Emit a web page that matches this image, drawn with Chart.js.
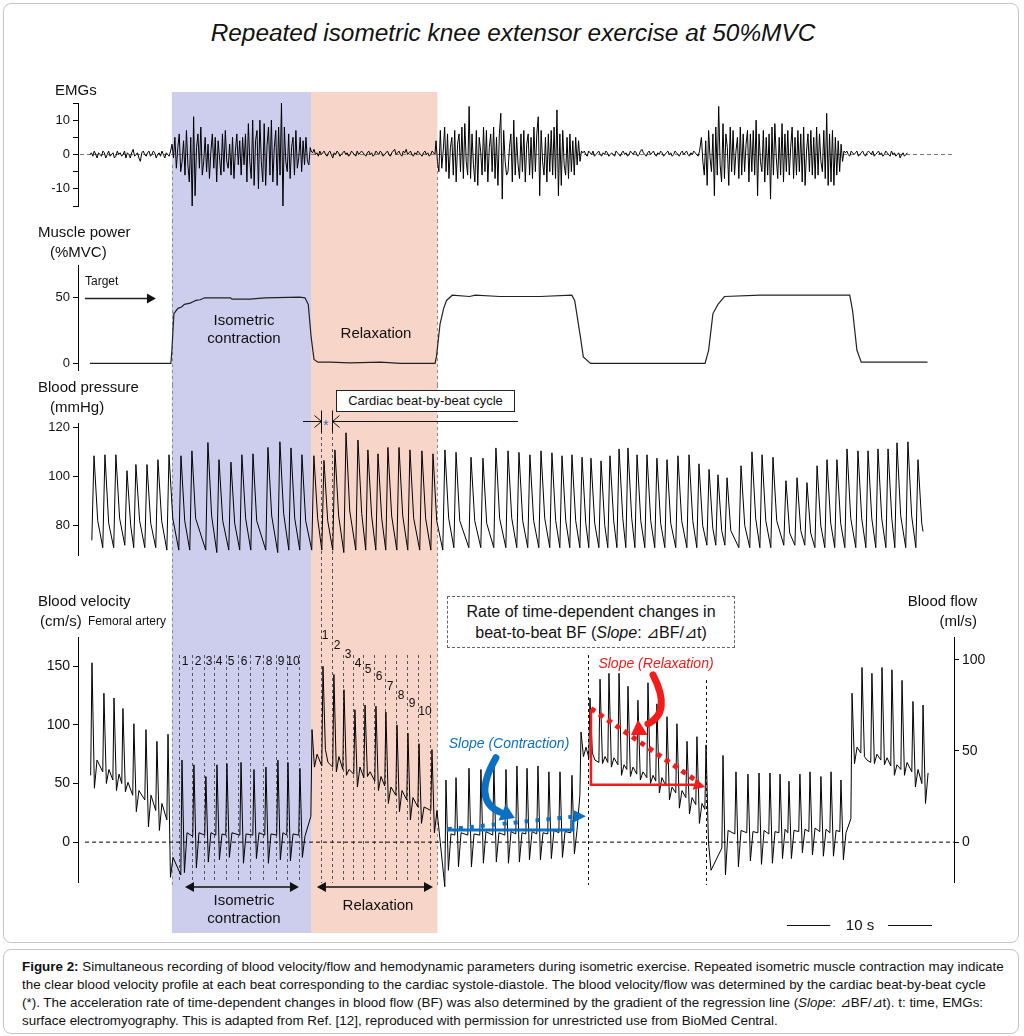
<!DOCTYPE html>
<html lang="en">
<head>
<meta charset="UTF-8">
<meta name="viewport" content="width=device-width, initial-scale=1.0">
<title>Repeated isometric knee extensor exercise at 50%MVC</title>
<script src="https://cdn.jsdelivr.net/npm/chart.js"></script>
<style>
  html, body { margin: 0; padding: 0; background: #fff; }
  body { font-family: "Liberation Sans", Arial, Helvetica, sans-serif; color: #111; }
  #page { position: relative; width: 1024px; height: 1036px; overflow: hidden; }
  .frame { position: absolute; border: 1px solid #c4c4c4; border-radius: 8px; }
  canvas { position: absolute; left: 0; }
  .t { position: absolute; white-space: nowrap; line-height: 1.15; }
  .box { position: absolute; box-sizing: border-box; background: #fff; border: 1px solid #222; font-size: 13px; text-align: center; line-height: 19px; }
  .dbox { position: absolute; box-sizing: border-box; border: 1px dashed #666; font-size: 16px; text-align: center; line-height: 21px; padding-top: 4px; background: #fff; }
  #caption { position: absolute; left: 22px; top: 958px; font-size: 13.4px; line-height: 18px; white-space: nowrap; color: #111; }
</style>
</head>
<body>
<div id="page">
  <div class="frame" style="left:3px;top:3px;width:1014px;height:938px"></div>
  <div class="frame" style="left:3px;top:949px;width:1014px;height:83px"></div>
  <canvas id="emg" width="1024" height="140" style="top:80px"></canvas>
  <canvas id="power" width="1024" height="165" style="top:220px"></canvas>
  <canvas id="bp" width="1024" height="185" style="top:385px"></canvas>
  <canvas id="vel" width="1024" height="370" style="top:570px"></canvas>
  <div class="box" style="left:336px;top:390px;width:179px;height:22px">Cardiac beat-by-beat cycle</div>
  <div class="dbox" style="left:447px;top:596px;width:288px;height:52px">Rate of time-dependent changes in<br>beat-to-beat BF (<i>Slope</i>: ⊿BF/⊿t)</div>
  <div id="caption"><b>Figure 2:</b> Simultaneous recording of blood velocity/flow and hemodynamic parameters during isometric exercise. Repeated isometric muscle contraction may indicate<br>the clear blood velocity profile at each beat corresponding to the cardiac systole-diastole. The blood velocity/flow was determined by the cardiac beat-by-beat cycle<br>(*). The acceleration rate of time-dependent changes in blood flow (BF) was also determined by the gradient of the regression line (<i>Slope</i>: ⊿BF/⊿t). t: time, EMGs:<br>surface electromyography. This is adapted from Ref. [12], reproduced with permission for unrestricted use from BioMed Central.</div>
</div>

<script>
const FONT = '"Liberation Sans", Arial, Helvetica, sans-serif';
Chart.defaults.font.family = FONT;

// ---------- time axis (seconds) ----------
const T_MIN = -0.69, T_MAX = 60.14;
const phaseT = [5.83, 15.49, 24.27];          // contraction start, relaxation start, relaxation end

// ---------- EMGs ----------
const emgTicks = [-15, -10, -5, 0, 5, 10, 15];
const emgTickLabels = [-10, 0, 10];
const emgDt = 0.1;
const emgSegStart = [0.14, 5.84, 15.5, 24.17, 34.37, 42.6, 52.6];
const emgPre = [0,0.5,-0.5,1,0,-1,0.5,0,-0.5,1, 0.5,-1,0,1,-0.5,0,0.5,-1,-0.5,1, 0,0.5,-0.5,0,1,-1,0.5,0,-1,0.5,
  1.5,-0.5,0,0.5,-1,-2,0.5,1,0,-0.5, 0.5,1,-0.5,0,1,0.5,-1,0,0.5,-0.5, 1,0,-1,0.5,0,-0.5,1];
const emgBurst1 = [3,-1,5,-4,2,6,-5,-2,4,-6, 7,-3,-8,5,-15,11,-12,2,6,-4, 8,-6,-2,5,-5,3,-7,1,6,-4,
  5,-8,4,-1,-6,6,-5,7,-2,-4, 3,-6,5,-7,1,6,-3,4,-6,5, -3,6,-8,9,-2,-7,10,-9,4,7,
  -10,10,-2,-8,9,-9,3,8,-6,10, -8,2,7,-9,8,-6,15,-15,8,-2, -5,6,-7,2,5,-6,7,-4,-1,5, -5,4,-3,5,-2,-3,2];
const emgRest1 = [1,0.5,1.5,0,0.5,-0.5,1,0,0.5,1, 0,-0.5,0.5,1,0,-1,0.5,0,1,0.5, -0.5,0,0.5,1,0,0.5,-0.5,0,1,0.5,
  0,-0.5,1,0,0.5,1,0.5,0,-0.5,0.5, 1,0,0.5,-0.5,0,1,0.5,0,1,0.5, -0.5,0,0.5,1,0,-0.5,0.5,1,1.5,0,
  0.5,1,0,-0.5,1,0.5,1.5,0,0.5,1, 0,-0.5,0.5,0,1,0.5,0,-0.5,0.5,1, 0,0.5,-0.5,0,1,0.5,0];
const emgBurst2 = [4,-2,-5,7,-4,1,8,-5,6,-7, 2,5,-6,7,-8,3,6,-5,8,-7, 9,-2,-6,14,-7,6,-3,-8,7,-9,
  5,1,-6,8,-5,7,-8,2,6,-5, 8,-7,5,-9,6,12,-13,7,-2,-6, -5,2,6,-8,10,-6,5,-3,-7,6,
  -5,7,-8,3,6,-6,5,-7,8,-5, 6,11,-12,7,-2,-6,5,-8,6,-5, 7,-6,8,-7,13,-12,6,-9,7,-3,
  -6,5,-7,6,-5,4,-6,5,-3,4,-2,1];
const emgRest2 = [0.5,1,0,-0.5,1,0.5,0,1,-0.5,0, 0.5,1,0,-0.5,0.5,0,1,0.5,-0.5,0, 0.5,0,-0.5,1,0.5,0,-0.5,0.5,1,0,
  0.5,-0.5,0,1,0.5,0,1,0.5,-0.5,0, 1,1.5,0.5,0,-0.5,0.5,1,0,0.5,1, 0,-0.5,0.5,0,1,0.5,-0.5,0,0.5,1,
  0,0.5,-0.5,0,1,0.5,0,-0.5,0.5,1, 0,0.5,1,0,-0.5,0.5,0,1,0.5,0, -0.5,1];
const emgBurst3 = [5,-2,-6,4,-9,7,-1,-5,6,-12, 8,-6,14,-3,-8,9,-7,6,2,-9, 8,-5,7,-6,1,5,-7,8,-6,6,
  -5,3,7,-8,6,-5,7,-6,10,-12, 6,-2,-5,7,-8,5,-6,6,-13,8, -6,9,-1,-7,5,-6,9,-8,6,-5,
  7,-6,2,8,-7,5,-6,7,-5,6, -8,8,-9,1,6,-5,7,-6,5,-7, 8,-6,6,-2,-5,7,-7,12,-9,6, -8,7,-9,5,-6,4,-5,3,-2,1];
const emgPost = [0.5,1,0,-0.5,1,0.5,0,0.5,1,-0.5, 0,0.5,1,0,-0.5,0.5,1,0.5,0,1, -0.5,0,0.5,1,0,0.5,-0.5,0,1,0.5,
  0,-0.5,1,0,0.5,-0.5,0,0.5,-1,0, 0.5,-0.5,0,0.5];
const emgZeroT = [-0.55, 60.0];

// ---------- Muscle power (%MVC) ----------
const powTicks = [0, 50];
const powT = [0.14,5.76,5.83,5.97,6.25,6.5,6.7,7.1,7.3,7.5, 7.8,8.1,9.9,10.0,11.25,12.3,14.7,15.07,15.3,15.5,
  15.7,15.97,16.8,18.2,20.3,21.7,24.1,24.2,24.45,24.7, 24.9,25.3,26.5,26.9,28.6,30.7,31.4,33.6,33.8,34.2,
  34.4,34.9,42.85,43.1,43.4,43.75,44.2,46.7,52.9,53.1, 53.4,53.7,58.3];
const powV = [0,0,10,38,42,43,45,46,47,48, 48.5,50,50,49,49,50,50.5,50,45,20,
  3,1,1,0.5,1,0,0,5,30,42, 48,52,51,52,51,51,51,52,48,20,
  5,0,0,10,38,45,51,52,52,40, 10,1,1];
const targetT = [-0.21, 4.72];

// ---------- Blood pressure (mmHg), one entry per beat ----------
const bpTicks = [80, 100, 120];
const bpPeakT = [0.42,1.18,1.94,2.71,3.33,4.10,4.86,5.63,6.46,7.22, 8.33,9.10,9.93,10.69,11.46,12.50,13.33,14.10,14.86,
  15.69,16.39,17.15,17.92,18.75,19.44,20.14,20.83,21.60,22.36,23.19,23.96,24.79,25.56,
  26.60,27.43,28.33,29.17,29.93,30.69,31.46,32.22,32.92,33.61, 34.31,34.93,35.63,36.25,36.88,37.50,38.13,38.82,39.51,40.21,
  40.97,41.74,42.43,43.13,43.75,44.38,45.35,46.11,46.81,47.57, 48.47,49.24,49.93,50.63,51.32,52.01,52.71,53.47,54.17,54.86,
  55.56,56.18,56.94,57.64];
const bpPeak = [108.6,109,109,102.5,105,105,107,109,108.6,110.6, 114,107,106,109,109.4,112,114.3,111.8,109,
  108.6,106.7,111,118,115,111,109.4,112,112,111,110.6,109.4,111,110,
  108,107.6,111.8,110.6,110,109,110.6,109.8,108.6,109, 108,107.6,106.5,108.6,111.4,111.8,109,109,107.6,107,
  108.6,109,105.3,103,100.8,99.6,104.5,110.2,109,108, 98.4,99.6,97.6,104.5,107,107,111.4,110.6,110.6,111.4,
  111.4,113.9,114.3,107];
const bpNotch = [82,81,83,80,82,81,82,83,82,83, 84,82,81,83,82,84,85,83,82,
  83,82,84,86,85,84,83,84,84,83,83,82,83,82,
  82,81,83,83,82,82,83,82,82,82, 81,81,80,82,83,83,82,82,81,81,
  82,82,80,79,78,78,80,83,82,82, 77,78,77,80,81,81,83,83,83,83,
  83,84,84,81];
const bpTrough = [74,71,71,72,71,71,71,70,70,70, 70,69,70,70,70,70,69,70,70,
  70,70,70,69,70,70,70,70,70,70,70,70,70,71,
  71,71,71,71,71,71,71,71,71,71, 71,71,71,71,71,71,71,71,71,71,
  71,71,71,72,72,72,71,71,71,71, 72,72,72,71,71,71,71,71,71,71,
  71,71,71,71];
const bpEnd = [57.99, 77.6];
const cycleT = [16.18, 16.94];                 // one cardiac cycle (*)
const cycleLineT = [14.93, 29.86];

// ---------- Blood velocity (cm/s), one entry per beat ----------
const velTicks = [0, 50, 100, 150];
const flowTicks = [0, 50, 100];
const velStart = [0.19, 57];
const velT = [0.28,1.11,1.81,2.43,3.19,4.03,4.79,5.56,
  6.53,7.36,8.19,8.96,9.65,10.63,11.53,12.36,13.19,13.89,14.72,
  15.56,16.32,17.08,17.78,18.54,19.24,20.00,20.69,21.46,22.22,22.99,23.89,
  24.86,25.56,26.46,27.29,28.19,29.03,29.79,30.49,31.25,32.01,32.78,33.61,34.24,
  34.86,35.56,36.18,36.88,37.50,38.19,38.89,39.51,40.21,40.90,41.60,42.29,42.92,44.10,
  45.00,45.83,46.60,47.36,48.06,48.68,49.44,50.14,50.90,51.60,52.29,
  53.06,53.75,54.44,55.14,55.83,56.53,57.29,57.99];
const velPk = [153,127,123,114,101,96,86,92,
  70,66,56,66,67,68,62,64,70,68,63,
  96,150,143,130,113,117,116,111,100,93,84,79,
  53,55,63,62,65,62,65,63,65,60,60,57,94,
  123,139,144,144,133,121,136,118,107,101,86,90,83,74,
  60,58,59,59,58,52,58,60,56,60,53,
  127,149,144,149,147,138,120,117];
const velTr = [46,50,44,43,26,13,10,-30,
  -26,-22,-17,-15,-13,-18,-14,-18,-15,-16,-13,
  64,79,60,57,47,56,44,33,26,19,16,8,
  -24,-21,-21,-18,-17,-18,-17,-15,-15,-14,-13,-10,73,
  76,67,64,57,56,53,50,42,36,29,24,16,0,-28,
  -21,-16,-19,-18,-14,-14,-9,-11,-12,-12,-15,
  67,73,67,66,57,57,47,33];
const velPl = [70,62,58,51,44,40,33,-13,
  8,8,8,7,8,7,8,7,8,7,5,
  75,68,73,62,64,60,56,47,44,38,30,27,
  7,8,7,9,8,9,8,9,8,10,9,10,81,
  70,73,72,66,64,60,57,55,47,44,38,33,-24,10,
  10,9,10,9,11,10,11,12,11,10,8,
  81,70,75,72,66,68,62,59];
const velWg = [60,53,50,40,36,27,19,-28,
  5,6,6,6,6,6,6,6,6,6,22,
  65,64,62,58,55,52,48,40,36,30,27,-38,
  6,6,6,6,6,7,7,7,7,8,8,40,72,
  68,68,66,62,58,55,52,48,42,38,32,28,-5,7,
  8,8,7,8,8,9,9,9,8,9,20,
  76,68,70,65,62,60,50,59];
const velZeroT = [-0.2, 60.14];
const contrBeatT = [6.32,7.22,8.06,8.75,9.58,10.42,11.25,12.15,13.06,13.82,14.65];
const relaxBeatT = [16.18,16.94,17.71,18.40,19.10,19.86,20.63,21.39,22.15,22.92,23.75];
const slopeEdgeT = [34.72, 42.92];

// regression lines (Slope)
const slopeContrSolidT = [24.93, 33.68, 33.68];
const slopeContrSolidV = [10.3, 10.3, 19];
const slopeContrDotT = [25.0, 33.96];
const slopeContrDotV = [11, 22];
const slopeRelaxSolidT = [34.93, 34.93, 42.3];
const slopeRelaxSolidV = [113, 49, 49];
const slopeRelaxDotT = [34.93, 42.29];
const slopeRelaxDotV = [114, 52];

const contrSpanT = [6.74, 14.65];
const relaxSpanT = [15.90, 23.96];
const scaleBarT = [48.54, 58.61];

// ---------- build point lists ----------
const zip = (xs, ys) => xs.map((x, i) => ({ x, y: ys[i] }));

const emgPts = [];
[emgPre, emgBurst1, emgRest1, emgBurst2, emgRest2, emgBurst3, emgPost].forEach((seg, s) => {
  seg.forEach((v, i) => emgPts.push({ x: emgSegStart[s] + i * emgDt, y: v }));
});

const bpPts = [];
bpPeakT.forEach((t, i) => {
  bpPts.push({ x: t - 0.15, y: bpTrough[i] });
  bpPts.push({ x: t, y: bpPeak[i] });
  bpPts.push({ x: t + 0.26, y: bpNotch[i] });
});
bpPts.push({ x: bpEnd[0], y: bpEnd[1] });

const velPts = [{ x: velStart[0], y: velStart[1] }];
velT.forEach((t, i) => {
  velPts.push({ x: t, y: velPk[i] });
  velPts.push({ x: t + 0.17, y: velTr[i] });
  velPts.push({ x: t + 0.35, y: velPl[i] });
  if (i < velT.length - 1) velPts.push({ x: velT[i + 1] - 0.08, y: velWg[i] });
});

// dashed vertical markers (page y extents)
const markerLines = [];
[phaseT[0], phaseT[2]].forEach(t => markerLines.push({ t, from: 165, to: 885, color: '#8a8a8a' }));
contrBeatT.forEach(t => markerLines.push({ t, from: 655, to: 883, color: '#555' }));
relaxBeatT.forEach((t, i) => markerLines.push({ t, from: i < 2 ? 413 : 655, to: 883, color: '#555' }));
slopeEdgeT.forEach((t, i) => markerLines.push({ t, from: i === 0 ? 655 : 680, to: 885, color: '#111' }));

// ---------- helpers ----------
function arrowHead(ctx, fx, fy, tx, ty, len, half, color) {
  const a = Math.atan2(ty - fy, tx - fx);
  const bx = tx - len * Math.cos(a), by = ty - len * Math.sin(a);
  ctx.fillStyle = color;
  ctx.beginPath();
  ctx.moveTo(tx, ty);
  ctx.lineTo(bx + half * Math.sin(a), by - half * Math.cos(a));
  ctx.lineTo(bx - half * Math.sin(a), by + half * Math.cos(a));
  ctx.closePath();
  ctx.fill();
}

function overlay(pageTop, extra) {
  return {
    id: 'overlay',
    beforeDraw(chart) {
      const { ctx, scales: { x } } = chart;
      const y0 = Math.max(0, 92 - pageTop), y1 = Math.min(chart.height, 933 - pageTop);
      if (y1 <= y0) return;
      const a = x.getPixelForValue(phaseT[0]), b = x.getPixelForValue(phaseT[1]), c = x.getPixelForValue(phaseT[2]);
      ctx.save();
      ctx.fillStyle = '#cdcdee';
      ctx.fillRect(a, y0, b - a, y1 - y0);
      ctx.fillStyle = '#f8d5c9';
      ctx.fillRect(b, y0, c - b, y1 - y0);
      ctx.restore();
    },
    beforeDatasetsDraw(chart) {
      const { ctx, scales: { x } } = chart;
      ctx.save();
      ctx.lineWidth = 1;
      ctx.setLineDash([3, 3]);
      markerLines.forEach(m => {
        const y0 = Math.max(0, m.from - pageTop), y1 = Math.min(chart.height, m.to - pageTop);
        if (y1 <= y0) return;
        const px = Math.round(x.getPixelForValue(m.t)) + 0.5;
        ctx.strokeStyle = m.color;
        ctx.beginPath();
        ctx.moveTo(px, y0);
        ctx.lineTo(px, y1);
        ctx.stroke();
      });
      ctx.restore();
    },
    afterDatasetsDraw(chart) {
      if (extra) extra(chart, pageTop);
    }
  };
}

function yAxis(min, max, ticks, labels, position, size) {
  return {
    type: 'linear', position, min, max,
    afterFit: s => { s.width = 50; },
    afterBuildTicks: s => { s.ticks = ticks.map(v => ({ value: v })); },
    grid: { drawOnChartArea: false, drawTicks: true, tickLength: 5, color: '#000', lineWidth: 1 },
    border: { display: true, color: '#000', width: 1 },
    ticks: {
      autoSkip: false, padding: 3, color: '#111', font: { size },
      callback: v => labels.includes(v) ? String(v) : ''
    }
  };
}

function options(padding, yScales) {
  return {
    responsive: false,
    animation: false,
    devicePixelRatio: 1,
    layout: { padding },
    plugins: { legend: { display: false }, tooltip: { enabled: false } },
    elements: { point: { radius: 0 }, line: { tension: 0, borderWidth: 1, borderColor: '#000' } },
    scales: Object.assign({ x: { type: 'linear', min: T_MIN, max: T_MAX, display: false } }, yScales)
  };
}

// ---------- EMG chart ----------
new Chart(document.getElementById('emg'), {
  type: 'line',
  data: { datasets: [
    { data: emgPts, borderColor: '#000', borderWidth: 1, clip: false, order: 1 },
    { data: zip(emgZeroT, [0, 0]), borderColor: '#777', borderWidth: 1, borderDash: [4, 3], clip: false, order: 2 }
  ] },
  options: options({ left: 28, right: 70, top: 23, bottom: 14 },
    { y: yAxis(-15, 15, emgTicks, emgTickLabels, 'left', 13) }),
  plugins: [overlay(80, null)]
});

// ---------- Muscle power chart ----------
new Chart(document.getElementById('power'), {
  type: 'line',
  data: { datasets: [
    { data: zip(powT, powV), borderColor: '#222', borderWidth: 1.2, clip: false }
  ] },
  options: options({ left: 28, right: 70, top: 45, bottom: 15 },
    { y: yAxis(-5, 75, powTicks, powTicks, 'left', 13) }),
  plugins: [overlay(220, chart => {
    const { ctx, scales: { x, y } } = chart;
    const x0 = x.getPixelForValue(targetT[0]), x1 = x.getPixelForValue(targetT[1]);
    const py = Math.round(y.getPixelForValue(50)) + 0.5;
    ctx.save();
    ctx.strokeStyle = '#222';
    ctx.lineWidth = 1.5;
    ctx.beginPath();
    ctx.moveTo(x0, py);
    ctx.lineTo(x1 - 6, py);
    ctx.stroke();
    arrowHead(ctx, x0, py, x1, py, 9, 5, '#111');
    ctx.restore();
  })]
});

// ---------- Blood pressure chart ----------
new Chart(document.getElementById('bp'), {
  type: 'line',
  data: { datasets: [
    { data: bpPts, borderColor: '#000', borderWidth: 1, clip: false }
  ] },
  options: options({ left: 28, right: 70, top: 38, bottom: 15 },
    { y: yAxis(68, 122, bpTicks, bpTicks, 'left', 13) }),
  plugins: [overlay(385, (chart, top) => {
    const { ctx, scales: { x } } = chart;
    const yy = 421.5 - top;
    const a = x.getPixelForValue(cycleLineT[0]), b = x.getPixelForValue(cycleLineT[1]);
    const p = Math.round(x.getPixelForValue(cycleT[0])) + 0.5, q = Math.round(x.getPixelForValue(cycleT[1])) + 0.5;
    ctx.save();
    ctx.strokeStyle = '#111';
    ctx.lineWidth = 1;
    ctx.beginPath();
    ctx.moveTo(a, yy); ctx.lineTo(p, yy);
    ctx.moveTo(q, yy); ctx.lineTo(b, yy);
    ctx.moveTo(p, yy - 11); ctx.lineTo(p, yy + 11);
    ctx.moveTo(q, yy - 11); ctx.lineTo(q, yy + 11);
    ctx.moveTo(p - 7, yy - 6); ctx.lineTo(p, yy); ctx.lineTo(p - 7, yy + 6);
    ctx.moveTo(q + 7, yy - 6); ctx.lineTo(q, yy); ctx.lineTo(q + 7, yy + 6);
    ctx.stroke();
    ctx.restore();
  })]
});

// ---------- Blood velocity / flow chart ----------
const BLUE = '#0b6fc2', RED = '#f41b1b';
new Chart(document.getElementById('vel'), {
  type: 'line',
  data: { datasets: [
    { data: zip(slopeContrSolidT, slopeContrSolidV), borderColor: BLUE, borderWidth: 3, clip: false, order: 0 },
    { data: zip(slopeContrDotT, slopeContrDotV), borderColor: BLUE, borderWidth: 4, borderDash: [4, 7], clip: false, order: 0 },
    { data: zip(slopeRelaxSolidT, slopeRelaxSolidV), borderColor: RED, borderWidth: 2.5, clip: false, order: 0 },
    { data: zip(slopeRelaxDotT, slopeRelaxDotV), borderColor: RED, borderWidth: 5, borderDash: [5, 5], clip: false, order: 0 },
    { data: velPts, borderColor: '#000', borderWidth: 1, clip: false, order: 1 },
    { data: zip(velZeroT, [0, 0]), borderColor: '#000', borderWidth: 1, borderDash: [4, 3], clip: false, order: 2 }
  ] },
  options: options({ left: 28, right: 20, top: 67, bottom: 58 }, {
    y: yAxis(-34, 175, velTicks, velTicks, 'left', 14),
    y2: yAxis(-21.9, 112.5, flowTicks, flowTicks, 'right', 14)
  }),
  plugins: [overlay(570, (chart, top) => {
    const { ctx, scales: { x, y } } = chart;
    const X = t => x.getPixelForValue(t), Y = v => y.getPixelForValue(v);
    ctx.save();
    // arrow tips of the slope lines
    arrowHead(ctx, X(slopeContrDotT[1]), Y(slopeContrDotV[1]), X(34.58), Y(22), 12, 6, BLUE);
    arrowHead(ctx, X(slopeRelaxSolidT[2]), Y(slopeRelaxSolidV[2]), X(42.85), Y(47), 11, 6, RED);

    // curved pointer arrows
    ctx.lineCap = 'round';
    ctx.lineWidth = 7;
    ctx.strokeStyle = BLUE;
    ctx.beginPath();
    ctx.moveTo(X(28.33), Y(72));
    ctx.quadraticCurveTo(X(26.67), Y(36), X(28.61), Y(25.6));
    ctx.stroke();
    arrowHead(ctx, X(28.2), Y(28.5), X(29.65), Y(20.5), 14, 9, BLUE);

    ctx.strokeStyle = RED;
    ctx.beginPath();
    ctx.moveTo(X(39.24), Y(142.7));
    ctx.quadraticCurveTo(X(40.56), Y(111), X(38.89), Y(100.9));
    ctx.stroke();
    arrowHead(ctx, X(39.2), Y(103), X(37.71), Y(91.5), 14, 9, RED);

    // phase span arrows under the trace
    ctx.lineCap = 'butt';
    ctx.lineWidth = 1.5;
    ctx.strokeStyle = '#111';
    const yy = 887 - top;
    [contrSpanT, relaxSpanT].forEach(([t0, t1]) => {
      const a = X(t0), b = X(t1);
      ctx.beginPath();
      ctx.moveTo(a + 6, yy); ctx.lineTo(b - 6, yy);
      ctx.stroke();
      arrowHead(ctx, b, yy, a, yy, 9, 5, '#111');
      arrowHead(ctx, a, yy, b, yy, 9, 5, '#111');
    });

    // 10 s scale bar
    const sy = Math.round(925 - top) + 0.5;
    ctx.lineWidth = 1;
    ctx.beginPath();
    ctx.moveTo(X(scaleBarT[0]), sy); ctx.lineTo(X(scaleBarT[0] + 3), sy);
    ctx.moveTo(X(scaleBarT[1] - 3.05), sy); ctx.lineTo(X(scaleBarT[1]), sy);
    ctx.stroke();
    ctx.restore();
  })]
});

// ---------- text labels (page coordinates) ----------
const page = document.getElementById('page');
function addText(text, x, y, size, align, style, color) {
  const d = document.createElement('div');
  d.className = 't';
  d.textContent = text;
  d.style.left = x + 'px';
  d.style.top = y + 'px';
  d.style.fontSize = size + 'px';
  if (style) d.style.fontStyle = style;
  if (color) d.style.color = color;
  const tx = align === 'c' ? '-50%' : align === 'r' ? '-100%' : '0';
  d.style.transform = 'translate(' + tx + ', -50%)';
  page.appendChild(d);
}
[
  ['Repeated isometric knee extensor exercise at 50%MVC', 513, 33, 24.4, 'c', 'italic'],
  ['EMGs', 55, 90, 15, 'l'],
  ['Muscle power', 38, 232, 15, 'l'],
  ['(%MVC)', 50, 252, 15, 'l'],
  ['Target', 85, 282, 12, 'l'],
  ['Isometric', 244, 320, 15, 'c'],
  ['contraction', 244, 338, 15, 'c'],
  ['Relaxation', 376, 333, 15, 'c'],
  ['Blood pressure', 38, 387, 15, 'l'],
  ['(mmHg)', 50, 407, 15, 'l'],
  ['*', 326, 425, 14, 'c', '', '#2f6db5'],
  ['Blood velocity', 38, 601, 15, 'l'],
  ['(cm/s)', 40, 621, 15, 'l'],
  ['Femoral artery', 88, 622, 12, 'l'],
  ['Blood flow', 977, 601, 15, 'r'],
  ['(ml/s)', 977, 621, 15, 'r'],
  ['Slope (Relaxation)', 656, 663, 14, 'c', 'italic', RED],
  ['Slope (Contraction)', 509, 743, 14, 'c', 'italic', BLUE],
  ['Isometric', 244, 900, 15, 'c'],
  ['contraction', 244, 918, 15, 'c'],
  ['Relaxation', 378, 905, 15, 'c'],
  ['10 s', 860, 925, 15, 'c']
].forEach(a => addText(...a));

const contrNumX = [185, 198, 209, 219, 231, 244, 258, 269, 281, 293];
contrNumX.forEach((x, i) => addText(String(i + 1), x, 662, 12, 'c'));
const relaxNumXY = [[325, 636], [337, 646], [348, 655], [358, 664], [368, 670], [379, 677], [390, 687], [401, 696], [412, 704], [425, 712]];
relaxNumXY.forEach(([x, y], i) => addText(String(i + 1), x, y, 12, 'c'));
</script>
</body>
</html>
